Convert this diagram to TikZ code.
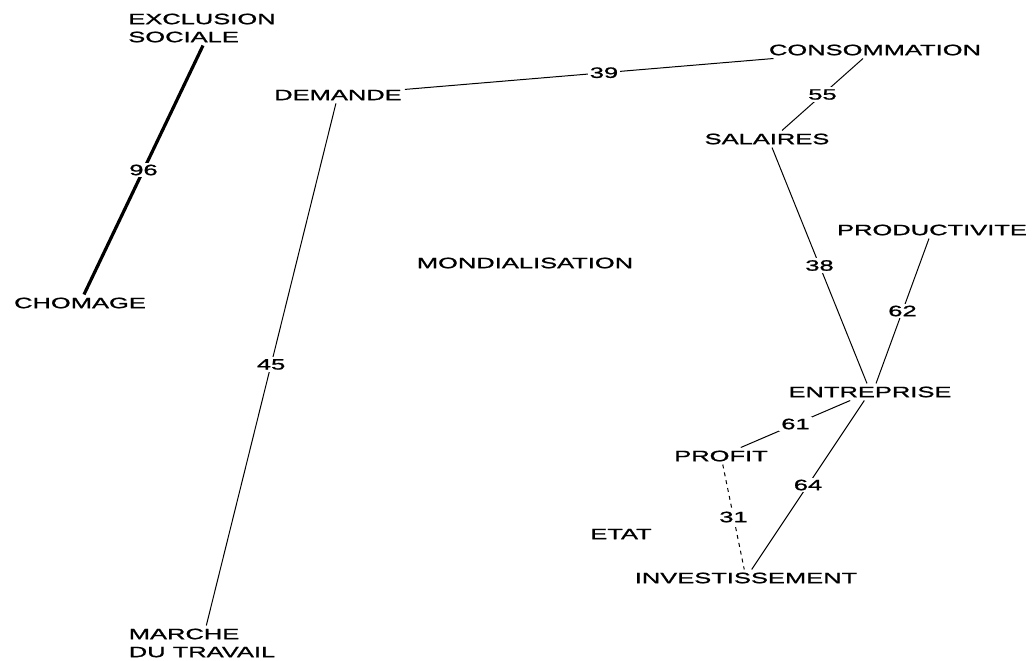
\documentclass[tikz,border=0pt]{standalone}
\usepackage{fontspec}
\newfontfamily\mapfont[FakeStretch=1.7,FakeBold=1.2]{Liberation Sans}
\tikzset{
  concept/.style={inner sep=3pt, font=\mapfont\fontsize{15}{18}\selectfont},
  weight/.style={fill=white, inner sep=2pt, font=\mapfont\fontsize{15}{18}\selectfont},
  link/.style={line width=1pt},
  stronglink/.style={line width=3.2pt},
  weaklink/.style={line width=1pt, dash pattern=on 4pt off 4pt}
}
\begin{document}
\begin{tikzpicture}[x=1pt,y=-1pt]
\useasboundingbox (0,0) rectangle (1036,661);
% concepts
\node[concept,align=left] (exclusion) at (202,28) {EXCLUSION\\SOCIALE};
\node[concept] (chomage) at (80,303) {CHOMAGE};
\node[concept] (demande) at (338,95) {DEMANDE};
\node[concept] (consommation) at (875,50) {CONSOMMATION};
\node[concept] (salaires) at (767,139) {SALAIRES};
\node[concept] (productivite) at (932,230) {PRODUCTIVITE};
\node[concept] (mondialisation) at (525,263) {MONDIALISATION};
\node[concept] (entreprise) at (870,392) {ENTREPRISE};
\node[concept] (profit) at (721,456) {PROFIT};
\node[concept] (etat) at (621,534) {ETAT};
\node[concept] (investissement) at (746,578) {INVESTISSEMENT};
\node[concept,align=left] (marche) at (202,643) {MARCHE\\DU TRAVAIL};
% links
\draw[stronglink] ([xshift=1pt]exclusion.south) -- node[weight]{96} ([xshift=4pt]chomage.north);
\draw[link] (demande) -- node[weight,pos=0.54]{39} (consommation);
\draw[link] ([xshift=-12pt]consommation.south) -- node[weight]{55} ([xshift=15pt]salaires.north);
\draw[link] ([xshift=5pt]salaires.south) -- node[weight]{38} ([xshift=-3pt]entreprise.north);
\draw[link] ([xshift=-3pt]productivite.south) -- node[weight]{62} ([xshift=6pt]entreprise.north);
\draw[link] (demande) -- node[weight]{45} (marche);
\draw[link] (entreprise) -- node[weight]{61} (profit);
\draw[link] (entreprise) -- node[weight]{64} (investissement);
\draw[weaklink] (profit) -- node[weight]{31} (investissement);
\end{tikzpicture}
\end{document}
